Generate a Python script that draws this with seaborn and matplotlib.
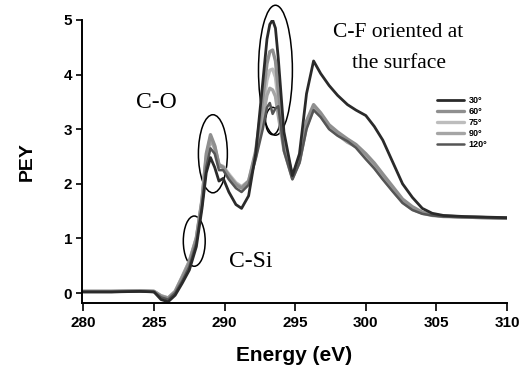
import matplotlib
matplotlib.use("Agg")
import matplotlib.pyplot as plt
from matplotlib.patches import Ellipse
import pandas as pd
import seaborn as sns

# Photon energy grid (eV)
energy = [280.0, 282.0, 284.0, 285.0, 285.5, 286.0, 286.5, 287.0, 287.5, 288.0,
          288.4, 288.7, 289.0, 289.3, 289.6, 289.9, 290.3, 290.8, 291.2, 291.7,
          292.2, 292.7, 293.0, 293.2, 293.4, 293.6, 293.8, 294.2, 294.8, 295.3,
          295.8, 296.3, 296.8, 297.4, 298.0, 298.7, 299.3, 300.0, 300.6, 301.2,
          301.9, 302.6, 303.3, 304.0, 304.7, 305.5, 307.0, 308.5, 310.0]

# Partial electron yield for each incidence angle
pey_30 = [0.02, 0.02, 0.03, 0.02, -0.12, -0.16, -0.04, 0.18, 0.42, 0.85,
          1.55, 2.20, 2.48, 2.30, 2.05, 2.10, 1.85, 1.62, 1.55, 1.78,
          2.55, 3.85, 4.65, 4.92, 5.00, 4.85, 4.30, 2.95, 2.15, 2.55,
          3.65, 4.25, 4.02, 3.80, 3.62, 3.45, 3.35, 3.25, 3.05, 2.80,
          2.40, 2.00, 1.75, 1.55, 1.46, 1.42, 1.40, 1.39, 1.38]
pey_60 = [0.03, 0.03, 0.04, 0.03, -0.06, -0.10, 0.02, 0.28, 0.55, 1.00,
          1.70, 2.55, 2.90, 2.70, 2.35, 2.30, 2.15, 1.98, 1.92, 2.05,
          2.60, 3.55, 4.20, 4.42, 4.45, 4.25, 3.70, 2.75, 2.15, 2.45,
          3.15, 3.45, 3.30, 3.08, 2.95, 2.82, 2.72, 2.55, 2.38, 2.18,
          1.95, 1.72, 1.58, 1.48, 1.43, 1.41, 1.39, 1.38, 1.37]
pey_75 = [0.03, 0.03, 0.04, 0.03, -0.05, -0.09, 0.03, 0.30, 0.58, 1.02,
          1.72, 2.50, 2.85, 2.68, 2.35, 2.32, 2.18, 2.02, 1.95, 2.05,
          2.55, 3.35, 3.90, 4.08, 4.10, 3.95, 3.50, 2.70, 2.12, 2.42,
          3.10, 3.42, 3.28, 3.05, 2.92, 2.78, 2.70, 2.50, 2.33, 2.13,
          1.90, 1.68, 1.55, 1.47, 1.43, 1.41, 1.39, 1.38, 1.37]
pey_90 = [0.03, 0.03, 0.04, 0.03, -0.05, -0.09, 0.03, 0.30, 0.58, 1.00,
          1.68, 2.45, 2.80, 2.65, 2.32, 2.30, 2.15, 2.00, 1.93, 2.02,
          2.50, 3.20, 3.62, 3.75, 3.72, 3.60, 3.25, 2.62, 2.10, 2.40,
          3.05, 3.38, 3.25, 3.02, 2.90, 2.76, 2.68, 2.48, 2.30, 2.10,
          1.88, 1.66, 1.53, 1.46, 1.42, 1.40, 1.39, 1.38, 1.37]
pey_120 = [0.02, 0.02, 0.03, 0.02, -0.08, -0.12, 0.00, 0.22, 0.48, 0.92,
           1.60, 2.30, 2.65, 2.55, 2.25, 2.25, 2.08, 1.92, 1.85, 1.98,
           2.45, 3.00, 3.40, 3.48, 3.28, 3.38, 3.42, 2.60, 2.08, 2.38,
           3.00, 3.35, 3.22, 3.00, 2.88, 2.78, 2.66, 2.45, 2.28, 2.08,
           1.86, 1.65, 1.52, 1.45, 1.42, 1.40, 1.39, 1.38, 1.37]

angles = ["30°", "60°", "75°", "90°", "120°"]
series = [pey_30, pey_60, pey_75, pey_90, pey_120]
colors = ["#2a2a2a", "#8f8f8f", "#bdbdbd", "#a5a5a5", "#555555"]
x_ticks = [280, 285, 290, 295, 300, 305, 310]
y_ticks = [0, 1, 2, 3, 4, 5]

rows = []
for ang, vals in zip(angles, series):
    for e, v in zip(energy, vals):
        rows.append({"energy": e, "pey": v, "angle": ang})
df = pd.DataFrame(rows)

sns.set_theme(style="white")
plt.rcParams["font.family"] = ["Liberation Sans", "DejaVu Sans"]
plt.rcParams["text.color"] = "black"
plt.rcParams["axes.labelcolor"] = "black"

fig = plt.figure(figsize=(5.32, 3.68), dpi=100)
ax = fig.add_axes([0.1541, 0.1766, 0.799, 0.7691])

# draw the lighter curves first so the dark ones sit on top
order = ["75°", "90°", "60°", "120°", "30°"]
palette = dict(zip(angles, colors))
widths = {"30°": 2.0, "60°": 2.4, "75°": 2.4, "90°": 2.4, "120°": 1.8}
for ang in order:
    sub = df[df["angle"] == ang]
    sns.lineplot(data=sub, x="energy", y="pey", color=palette[ang],
                 linewidth=widths[ang], sort=False, estimator=None, ax=ax,
                 label=ang)

ax.set_xlim(279.9, 310)
ax.set_ylim(-0.183, 5.0)
ax.set_xticks(x_ticks)
ax.set_yticks(y_ticks)
ax.set_xticklabels([str(t) for t in x_ticks], fontsize=11, fontweight="bold")
ax.set_yticklabels([str(t) for t in y_ticks], fontsize=11, fontweight="bold")
ax.tick_params(axis="x", direction="out", length=6, width=1.2, pad=3,
               bottom=True, colors="black")
ax.tick_params(axis="y", direction="out", length=4, width=1.2, pad=3,
               left=True, colors="black")
for side in ["top", "right"]:
    ax.spines[side].set_visible(False)
for side in ["left", "bottom"]:
    ax.spines[side].set_color("black")
    ax.spines[side].set_linewidth(1.4)

ax.set_xlabel("Energy (eV)", fontsize=15, fontweight="bold", labelpad=12)
ax.set_ylabel("PEY", fontsize=14, fontweight="bold", labelpad=20)

# legend in the original angle order
handles, labels = ax.get_legend_handles_labels()
hmap = dict(zip(labels, handles))
leg = ax.legend([hmap[a] for a in angles], angles, loc="upper left",
                bbox_to_anchor=(0.81, 0.755), bbox_transform=fig.transFigure,
                frameon=False, handlelength=3.0,
                handletextpad=0.5, labelspacing=0.2, borderpad=0.2,
                prop={"weight": "bold", "size": 6.5})

# highlighted regions
ell_kw = dict(fill=False, edgecolor="black", linewidth=1.1, clip_on=False)
ax.add_patch(Ellipse((287.85, 0.95), 1.55, 0.92, **ell_kw))
ax.add_patch(Ellipse((289.17, 2.55), 2.05, 1.43, **ell_kw))
ax.add_patch(Ellipse((293.6, 4.08), 2.4, 2.38, **ell_kw))
ax.add_patch(Ellipse((293.4, 3.15), 1.0, 0.5, **ell_kw))

serif = ["Liberation Serif", "DejaVu Serif"]
ax.text(285.17, 3.39, "C-O", family=serif, fontsize=17, ha="center",
        va="baseline", color="black")
ax.text(291.85, 0.48, "C-Si", family=serif, fontsize=17, ha="center",
        va="baseline", color="black")
ax.text(297.7, 4.69, "C-F oriented at", family=serif, fontsize=15.5,
        ha="left", va="baseline", clip_on=False, color="black")
ax.text(299.04, 4.12, "the surface", family=serif, fontsize=15.5,
        ha="left", va="baseline", color="black")

fig.savefig("out.png", dpi=100, facecolor="white")
